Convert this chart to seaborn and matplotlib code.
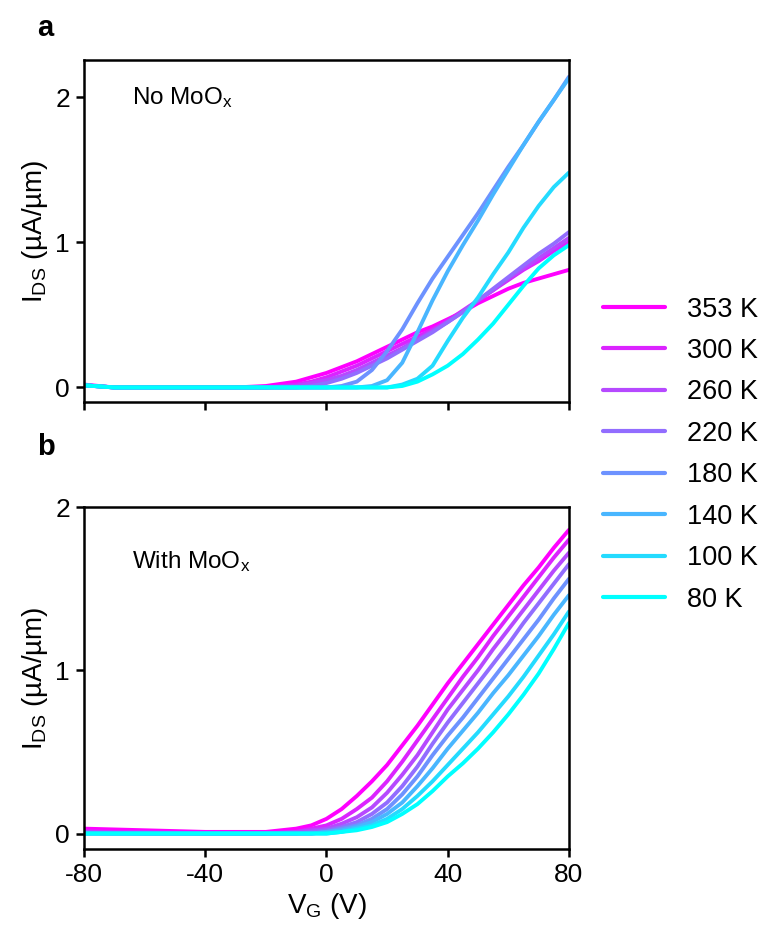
import numpy as np
import pandas as pd
import matplotlib
matplotlib.use("Agg")
import matplotlib.pyplot as plt
import seaborn as sns

sns.set_style("ticks")
plt.rcParams["font.family"] = ["Liberation Sans", "DejaVu Sans"]
plt.rcParams["mathtext.fontset"] = "custom"
plt.rcParams["mathtext.rm"] = "Liberation Sans"
plt.rcParams["mathtext.it"] = "Liberation Sans"
for k in ("text.color", "axes.labelcolor", "xtick.color", "ytick.color", "axes.edgecolor"):
    plt.rcParams[k] = "black"

# ---------------- data ----------------
temps = ["353 K", "300 K", "260 K", "220 K", "180 K", "140 K", "100 K", "80 K"]
vg = [-80, -70, -60, -50, -40, -30, -20, -10, -5, 0, 5, 10, 15, 20, 25, 30,
      35, 40, 45, 50, 55, 60, 65, 70, 75, 80]

# panel a: No MoOx
ids_a_353 = [0.02, 0.0, 0.0, 0.0, 0.0, 0.0, 0.01, 0.04, 0.07, 0.10, 0.14, 0.18, 0.23,
             0.28, 0.33, 0.38, 0.42, 0.47, 0.52, 0.58, 0.63, 0.68, 0.72, 0.75, 0.78, 0.81]
ids_a_300 = [0.015, 0.0, 0.0, 0.0, 0.0, 0.0, 0.0, 0.02, 0.04, 0.07, 0.11, 0.15, 0.20,
             0.25, 0.30, 0.35, 0.40, 0.46, 0.53, 0.60, 0.67, 0.74, 0.81, 0.87, 0.94, 1.00]
ids_a_260 = [0.015, 0.0, 0.0, 0.0, 0.0, 0.0, 0.0, 0.01, 0.03, 0.05, 0.08, 0.12, 0.17,
             0.22, 0.27, 0.33, 0.39, 0.45, 0.52, 0.60, 0.67, 0.75, 0.82, 0.89, 0.96, 1.03]
ids_a_220 = [0.015, 0.0, 0.0, 0.0, 0.0, 0.0, 0.0, 0.0, 0.01, 0.03, 0.06, 0.10, 0.15,
             0.20, 0.26, 0.32, 0.38, 0.45, 0.52, 0.60, 0.68, 0.76, 0.84, 0.92, 0.99, 1.07]
ids_a_180 = [0.015, 0.0, 0.0, 0.0, 0.0, 0.0, 0.0, 0.0, 0.0, 0.0, 0.01, 0.04, 0.12,
             0.25, 0.40, 0.58, 0.75, 0.90, 1.05, 1.20, 1.36, 1.52, 1.67, 1.83, 1.98, 2.14]
ids_a_140 = [0.015, 0.0, 0.0, 0.0, 0.0, 0.0, 0.0, 0.0, 0.0, 0.0, 0.0, 0.0, 0.01,
             0.05, 0.17, 0.38, 0.60, 0.80, 0.98, 1.15, 1.33, 1.50, 1.67, 1.83, 1.98, 2.13]
ids_a_100 = [0.015, 0.0, 0.0, 0.0, 0.0, 0.0, 0.0, 0.0, 0.0, 0.0, 0.0, 0.0, 0.0,
             0.0, 0.02, 0.06, 0.15, 0.32, 0.48, 0.62, 0.78, 0.93, 1.10, 1.25, 1.38, 1.48]
ids_a_80 = [0.015, 0.0, 0.0, 0.0, 0.0, 0.0, 0.0, 0.0, 0.0, 0.0, 0.0, 0.0, 0.0,
            0.0, 0.01, 0.04, 0.09, 0.15, 0.23, 0.33, 0.44, 0.57, 0.70, 0.82, 0.91, 0.98]

# panel b: With MoOx
ids_b_353 = [0.03, 0.025, 0.02, 0.015, 0.01, 0.01, 0.01, 0.03, 0.05, 0.09, 0.15, 0.23, 0.32,
             0.42, 0.54, 0.66, 0.79, 0.92, 1.04, 1.16, 1.28, 1.40, 1.52, 1.63, 1.75, 1.86]
ids_b_300 = [0.015, 0.01, 0.01, 0.005, 0.0, 0.0, 0.0, 0.01, 0.03, 0.05, 0.09, 0.15, 0.22,
             0.32, 0.44, 0.57, 0.70, 0.83, 0.96, 1.08, 1.21, 1.33, 1.45, 1.57, 1.69, 1.80]
ids_b_260 = [0.01, 0.005, 0.0, 0.0, 0.0, 0.0, 0.0, 0.01, 0.02, 0.03, 0.06, 0.10, 0.16,
             0.25, 0.36, 0.48, 0.62, 0.76, 0.88, 1.00, 1.13, 1.25, 1.37, 1.49, 1.61, 1.72]
ids_b_220 = [0.005, 0.0, 0.0, 0.0, 0.0, 0.0, 0.0, 0.0, 0.01, 0.02, 0.04, 0.07, 0.12,
             0.19, 0.29, 0.41, 0.55, 0.68, 0.80, 0.92, 1.04, 1.16, 1.29, 1.41, 1.53, 1.65]
ids_b_180 = [0.0, 0.0, 0.0, 0.0, 0.0, 0.0, 0.0, 0.0, 0.0, 0.01, 0.03, 0.05, 0.09,
             0.15, 0.24, 0.35, 0.48, 0.60, 0.71, 0.83, 0.95, 1.07, 1.19, 1.31, 1.44, 1.56]
ids_b_140 = [0.0, 0.0, 0.0, 0.0, 0.0, 0.0, 0.0, 0.0, 0.0, 0.01, 0.02, 0.04, 0.07,
             0.12, 0.19, 0.29, 0.40, 0.52, 0.63, 0.74, 0.86, 0.97, 1.09, 1.21, 1.34, 1.46]
ids_b_100 = [0.0, 0.0, 0.0, 0.0, 0.0, 0.0, 0.0, 0.0, 0.0, 0.0, 0.01, 0.03, 0.05,
             0.09, 0.15, 0.23, 0.32, 0.42, 0.52, 0.62, 0.73, 0.84, 0.96, 1.09, 1.22, 1.36]
ids_b_80 = [0.0, 0.0, 0.0, 0.0, 0.0, 0.0, 0.0, 0.0, 0.0, 0.0, 0.01, 0.02, 0.04,
            0.07, 0.12, 0.18, 0.26, 0.35, 0.43, 0.52, 0.62, 0.73, 0.85, 0.98, 1.13, 1.29]

series_a = [ids_a_353, ids_a_300, ids_a_260, ids_a_220, ids_a_180, ids_a_140, ids_a_100, ids_a_80]
series_b = [ids_b_353, ids_b_300, ids_b_260, ids_b_220, ids_b_180, ids_b_140, ids_b_100, ids_b_80]

x_ticks = [-80, -40, 0, 40, 80]
y_ticks = [0, 1, 2]


def long_df(series):
    rows = []
    for t, ys in zip(temps, series):
        for v, y in zip(vg, ys):
            rows.append({"VG": v, "IDS": y, "T": t})
    return pd.DataFrame(rows)


df_a = long_df(series_a)
df_b = long_df(series_b)

cool = sns.color_palette("cool", as_cmap=True)
n = len(temps)
palette = {t: cool(1 - i / (n - 1)) for i, t in enumerate(temps)}

# ---------------- figure ----------------
fig = plt.figure(figsize=(7.67, 9.32), dpi=100)
ax_a = fig.add_axes([0.1095, 0.5687, 0.6323, 0.3669])
ax_b = fig.add_axes([0.1095, 0.0890, 0.6323, 0.3670])

for ax, df in ((ax_a, df_a), (ax_b, df_b)):
    sns.lineplot(data=df, x="VG", y="IDS", hue="T", hue_order=temps,
                 palette=palette, ax=ax, linewidth=2.8, sort=False,
                 legend=False, estimator=None)
    ax.set_xlim(-80, 80)
    ax.set_xticks(x_ticks)
    ax.set_yticks(y_ticks)
    for s in ax.spines.values():
        s.set_linewidth(1.8)
    ax.tick_params(axis="both", direction="out", length=6, width=1.8,
                   labelsize=19, pad=4)
    ax.set_ylabel(r"I$_{\rm DS}$ (µA/µm)", fontsize=20, labelpad=4)

ax_a.set_ylim(-0.1, 2.255)
ax_a.set_xticklabels([])
ax_a.set_xlabel("")

ax_b.set_ylim(-0.095, 2.0)
ax_b.set_xticklabels([str(v) for v in x_ticks])
ax_b.set_xlabel(r"V$_{\rm G}$ (V)", fontsize=20, labelpad=3)

ax_a.text(0.1, 0.89, r"No MoO$_{\rm x}$", transform=ax_a.transAxes,
          fontsize=17.5, va="center", ha="left")
ax_b.text(0.1, 0.84, r"With MoO$_{\rm x}$", transform=ax_b.transAxes,
          fontsize=17.5, va="center", ha="left")

fig.text(0.048, 0.970, "a", fontsize=21, fontweight="bold", va="center", ha="left")
fig.text(0.048, 0.520, "b", fontsize=21, fontweight="bold", va="center", ha="left")

handles = [plt.Line2D([0], [0], color=palette[t], lw=3) for t in temps]
fig.legend(handles, temps, loc="center left", bbox_to_anchor=(0.772, 0.5123),
           frameon=False, fontsize=19.5, handlelength=2.3, handletextpad=0.8,
           labelspacing=0.57, borderaxespad=0)

fig.savefig("out.png", dpi=100)
